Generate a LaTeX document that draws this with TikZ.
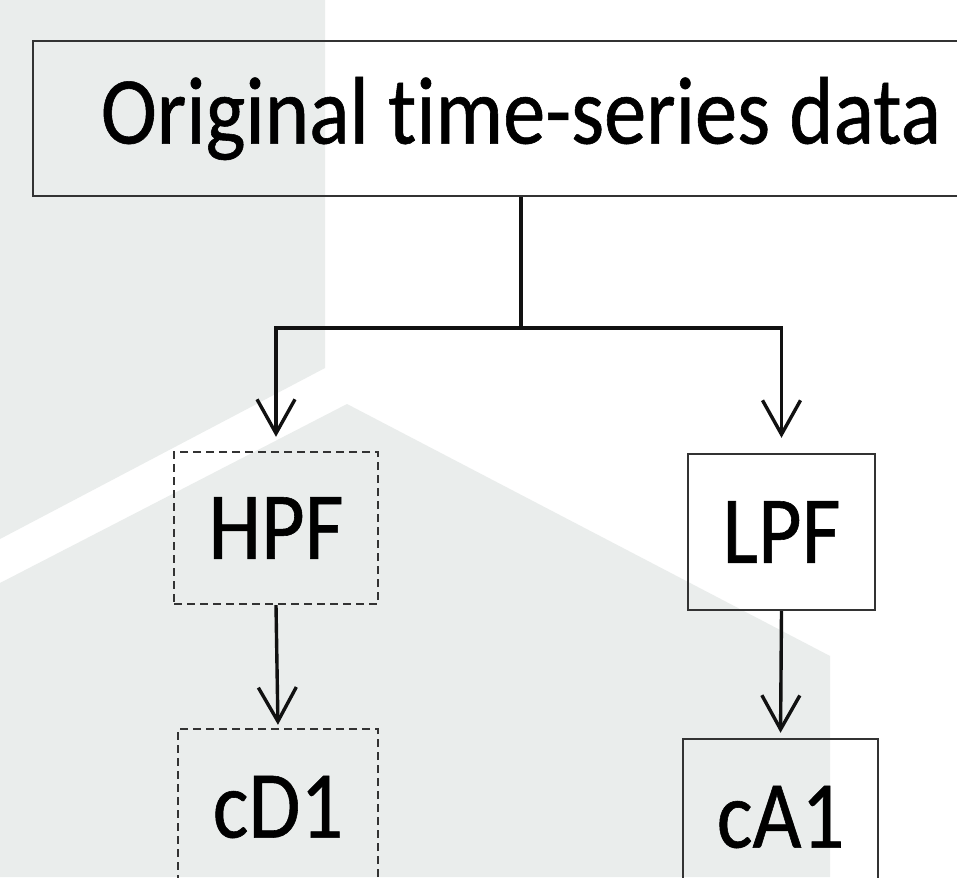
\documentclass[tikz,border=0pt]{standalone}
\usepackage{fontspec}
\setmainfont{Carlito}[FakeStretch=0.88, FakeBold=0.6, Ligatures=NoCommon]
\usetikzlibrary{arrows.meta}
\definecolor{panel}{RGB}{234,237,236}
\definecolor{edge}{RGB}{51,51,51}
\definecolor{ink}{RGB}{17,17,17}
\tikzset{
  box/.style={draw=edge, line width=2.4pt, inner sep=0pt, text=black,
              font=\fontsize{96}{106}\selectfont},
  dashbox/.style={box, dash pattern=on 8pt off 5pt},
  conn/.style={draw=ink, line width=3.4pt},
  arrow/.style={conn, -{Straight Barb[length=34pt, width=38pt, line width=3.4pt]}}
}
\begin{document}
\begin{tikzpicture}[x=1pt, y=-1pt]
  \useasboundingbox (0,0) rectangle (957,877);
  \clip (0,0) rectangle (957,877);
  % background panels
  \fill[white] (0,0) rectangle (957,877);
  \fill[panel] (0,0) -- (325,0) -- (325,368) -- (0,539) -- cycle;
  \fill[panel] (0,583) -- (347,404) -- (830,656) -- (830,877) -- (0,877) -- cycle;

  % boxes
  \node[box, minimum width=976pt, minimum height=155pt] (src) at (521,118.5) {\raisebox{-3pt}{Original time-series data}};
  \node[dashbox, minimum width=204pt, minimum height=152pt] (hpf) at (276,528) {HPF};
  \node[box, minimum width=187pt, minimum height=156pt] (lpf) at (781.5,532) {LPF};
  \node[dashbox, minimum width=200pt, minimum height=156pt] (cd) at (278,807) {cD1};
  \node[box, minimum width=195pt, minimum height=156pt] (ca) at (780.5,817) {cA1};

  % connectors
  \coordinate (split) at (521,328);
  \draw[conn] (src.south) -- (split);
  \draw[arrow, shorten >=14pt] (split) -| (hpf.north);
  \draw[arrow, shorten >=15pt] (split) -| (lpf.north);
  \draw[arrow, shorten >=3pt] (hpf.south) -- (cd.north);
  \draw[arrow, shorten >=5pt] (lpf.south) -- (ca.north);
\end{tikzpicture}
\end{document}
